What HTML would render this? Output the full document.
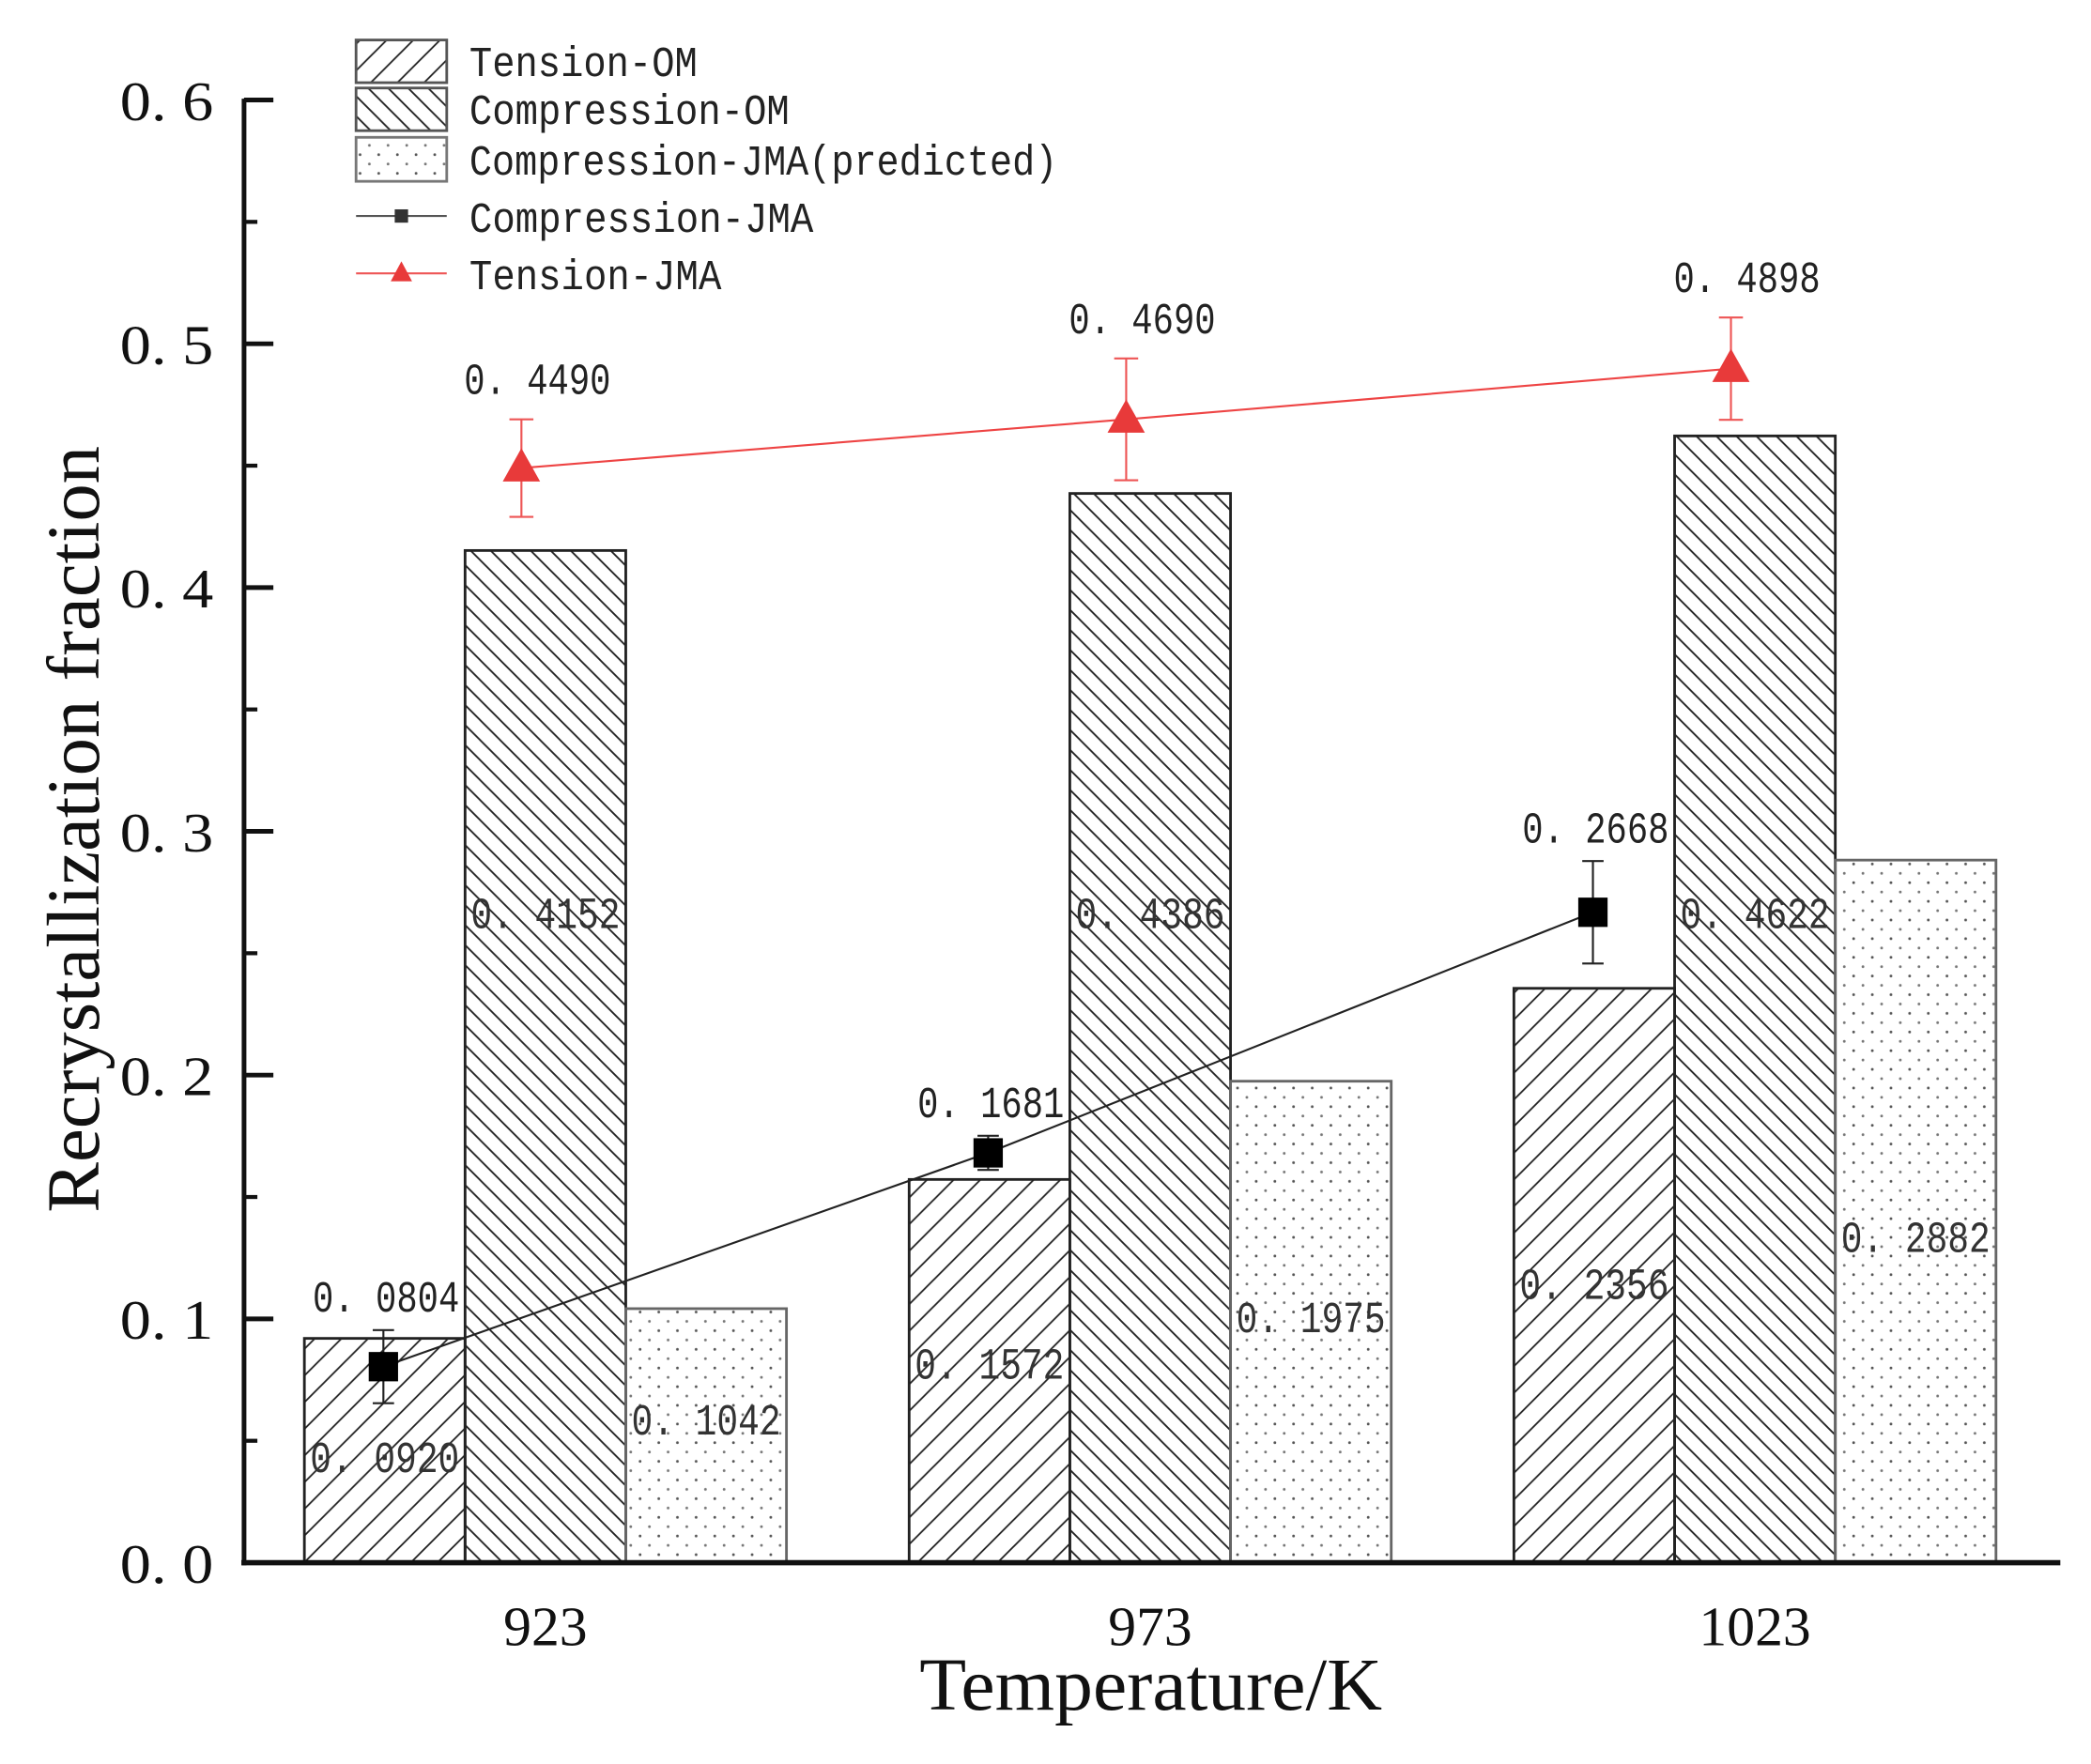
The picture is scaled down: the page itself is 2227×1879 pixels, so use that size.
<!DOCTYPE html>
<html><head><meta charset="utf-8"><style>
html,body{margin:0;padding:0;background:#fff;}
svg{display:block;}
.tick{font-family:"Liberation Serif",serif;font-size:42px;fill:#111;}
.leg{font-family:"Liberation Mono",monospace;font-size:32px;fill:#222;}
.val{font-family:"Liberation Mono",monospace;font-size:33px;fill:#222;}
.inval{font-family:"Liberation Mono",monospace;font-size:33px;fill:#333;}
</style></head><body>
<svg id="chart" width="2227" height="1879" viewBox="0 0 1568 1323" preserveAspectRatio="none" xmlns="http://www.w3.org/2000/svg">
<defs>
<pattern id="hatchT" patternUnits="userSpaceOnUse" width="20" height="20"><path d="M-5,5 L5,-5 M0,20 L20,0 M15,25 L25,15" stroke="#222" stroke-width="1.3"/></pattern>
<pattern id="hatchC" patternUnits="userSpaceOnUse" width="15" height="15"><path d="M-4,11 L4,19 M0,0 L15,15 M11,-4 L19,4" stroke="#222" stroke-width="1.3"/></pattern>
<pattern id="dots" patternUnits="userSpaceOnUse" width="14" height="14"><circle cx="4" cy="4" r="1" fill="#555"/><circle cx="11" cy="11" r="1" fill="#777"/></pattern>
</defs>
<g id="plot"></g>
<g id="legend">
<rect x="267" y="30" width="68" height="32" fill="url(#hatchT)" stroke="#555" stroke-width="2"/>
<text class="leg" x="352" y="57" textLength="171" lengthAdjust="spacingAndGlyphs">Tension-OM</text>
<rect x="267" y="66" width="68" height="32" fill="url(#hatchC)" stroke="#555" stroke-width="2"/>
<text class="leg" x="352" y="93" textLength="240" lengthAdjust="spacingAndGlyphs">Compression-OM</text>
<rect x="267" y="103" width="68" height="33" fill="url(#dots)" stroke="#777" stroke-width="2"/>
<text class="leg" x="352" y="131" textLength="441" lengthAdjust="spacingAndGlyphs">Compression-JMA(predicted)</text>
<line x1="267" y1="162" x2="335" y2="162" stroke="#555" stroke-width="1.5"/>
<rect x="296" y="157" width="10" height="10" fill="#333"/>
<text class="leg" x="352" y="174" textLength="258" lengthAdjust="spacingAndGlyphs">Compression-JMA</text>
<line x1="267" y1="205" x2="335" y2="205" stroke="#ee5555" stroke-width="1.5"/>
<polygon points="301,196 293,211 309,211" fill="#e83a3a"/>
<text class="leg" x="352" y="217" textLength="189" lengthAdjust="spacingAndGlyphs">Tension-JMA</text>
</g>
<text transform="translate(74,622) rotate(-90)" text-anchor="middle" font-family="Liberation Serif,serif" font-size="56" fill="#111" textLength="575" lengthAdjust="spacingAndGlyphs">Recrystallization fraction</text>
<text x="863" y="1282" text-anchor="middle" font-family="Liberation Serif,serif" font-size="56" fill="#111" textLength="347" lengthAdjust="spacingAndGlyphs">Temperature/K</text>
</svg>
<script>
const categories = ['923','973','1023'];
const tensionOM = [0.0920, 0.1572, 0.2356];
const compressionOM = [0.4152, 0.4386, 0.4622];
const compressionPred = [0.1042, 0.1975, 0.2882];
const compressionJMA = [0.0804, 0.1681, 0.2668];
const compressionJMAErr = [0.015, 0.007, 0.021];
const tensionJMA = [0.4490, 0.4690, 0.4898];
const tensionJMAErr = [0.020, 0.025, 0.021];
const yTicks = [0, 0.1, 0.2, 0.3, 0.4, 0.5, 0.6];
const yTickLabels = ['0. 0','0. 1','0. 2','0. 3','0. 4','0. 5','0. 6'];

const NS='http://www.w3.org/2000/svg';
const g=document.getElementById('plot');
const X0=183, Y0=1172, YTOP=75, YMAX=0.6;
const y=v=>Y0-(v/YMAX)*(Y0-YTOP);
const groupCenter=i=>409+i*453.5;
const BW=120.5;
function el(t,a,p){const e=document.createElementNS(NS,t);for(const k in a)e.setAttribute(k,a[k]);(p||g).appendChild(e);return e;}
function txt(s,a){const e=el('text',a);e.textContent=s;return e;}
const fmt=v=>'0. '+v.toFixed(4).slice(2);

const series=[[tensionOM,'url(#hatchT)','tension-om',-1],[compressionOM,'url(#hatchC)','compression-om',0],[compressionPred,'url(#dots)','compression-jma-predicted',1]];
series.forEach(([arr,fill,name,off])=>{
  arr.forEach((v,i)=>{
    const cx=groupCenter(i)+off*BW;
    const r=el('rect',{x:cx-BW/2,y:y(v),width:BW,height:Y0-y(v),fill:fill,stroke:off===1?'#666':'#222','stroke-width':2});
    
    
  });
});
const inLabelY=[[1093,1023,963],[685,685,685],[1065,988,928]];
series.forEach(([arr,fill,name,off],si)=>{
  arr.forEach((v,i)=>{
    const t=txt(fmt(v),{x:groupCenter(i)+off*BW,y:inLabelY[si][i]+11,'text-anchor':'middle',class:'inval',textLength:112,lengthAdjust:'spacingAndGlyphs'});
    
    
  });
});
el('line',{x1:X0,y1:YTOP-1,x2:X0,y2:Y0+2,stroke:'#111','stroke-width':3.5});
el('line',{x1:X0-2,y1:Y0,x2:1545,y2:Y0,stroke:'#111','stroke-width':4});
yTicks.forEach((v,i)=>{
  el('line',{x1:X0,y1:y(v),x2:X0+22,y2:y(v),stroke:'#111','stroke-width':3.5});
  if(i<yTicks.length-1){const m=(v+yTicks[i+1])/2;el('line',{x1:X0,y1:y(m),x2:X0+10,y2:y(m),stroke:'#111','stroke-width':3});}
  const t=txt(yTickLabels[i],{x:160,y:y(v)+15,'text-anchor':'end',class:'tick',textLength:70,lengthAdjust:'spacingAndGlyphs'});
  
  
});
categories.forEach((c,i)=>{
  const t=txt(c,{x:groupCenter(i),y:1234,'text-anchor':'middle',class:'tick'});
  
  
});
const cx=i=>groupCenter(i)-BW-1;
el('polyline',{points:compressionJMA.map((v,i)=>cx(i)+','+y(v)).join(' '),fill:'none',stroke:'#222','stroke-width':1.5});
compressionJMA.forEach((v,i)=>{
  const e=compressionJMAErr[i],x=cx(i);
  el('line',{x1:x,y1:y(v+e),x2:x,y2:y(v-e),stroke:'#222','stroke-width':1.5});
  el('line',{x1:x-8,y1:y(v+e),x2:x+8,y2:y(v+e),stroke:'#222','stroke-width':1.5});
  el('line',{x1:x-8,y1:y(v-e),x2:x+8,y2:y(v-e),stroke:'#222','stroke-width':1.5});
  const p=el('rect',{x:x-11,y:y(v)-11,width:22,height:22,fill:'#000'});
  
  
  const t=txt(fmt(v),{x:x+2,y:y(v+e)-14,'text-anchor':'middle',class:'val',textLength:110,lengthAdjust:'spacingAndGlyphs'});
  
  
});
const tx=i=>groupCenter(i)-18;
el('polyline',{points:tensionJMA.map((v,i)=>tx(i)+','+y(v)).join(' '),fill:'none',stroke:'#ee4444','stroke-width':1.5});
tensionJMA.forEach((v,i)=>{
  const e=tensionJMAErr[i],x=tx(i);
  el('line',{x1:x,y1:y(v+e),x2:x,y2:y(v-e),stroke:'#ee5555','stroke-width':1.5});
  el('line',{x1:x-9,y1:y(v+e),x2:x+9,y2:y(v+e),stroke:'#ee5555','stroke-width':1.5});
  el('line',{x1:x-9,y1:y(v-e),x2:x+9,y2:y(v-e),stroke:'#ee5555','stroke-width':1.5});
  const p=el('polygon',{points:(x)+','+(y(v)-15)+' '+(x-14)+','+(y(v)+10)+' '+(x+14)+','+(y(v)+10),fill:'#e83a3a'});
  
  
  const t=txt(fmt(v),{x:x+12,y:y(v+e)-19,'text-anchor':'middle',class:'val',textLength:110,lengthAdjust:'spacingAndGlyphs'});
  
  
});
</script>
</body></html>
